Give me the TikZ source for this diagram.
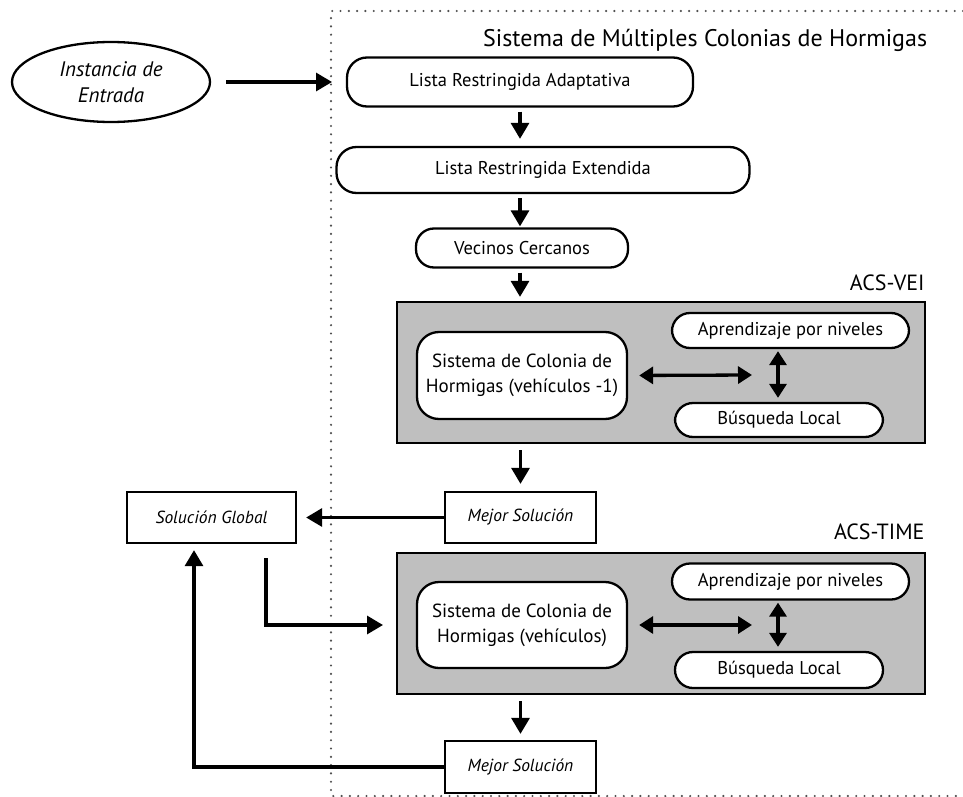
\documentclass[tikz,border=0pt]{standalone}
\usepackage{fontspec}
\setmainfont{PT Sans}
\usetikzlibrary{arrows.meta,shapes.geometric}
\definecolor{panelgray}{RGB}{191,191,191}
\definecolor{dotgray}{RGB}{80,80,80}
\begin{document}
\begin{tikzpicture}[x=1pt,y=-1pt,
  pill/.style={draw, line width=2.3pt, rounded corners=18pt, fill=white,
    inner sep=0pt, align=center, font=\fontsize{18.5}{25}\selectfont},
  flatbox/.style={draw, line width=2.3pt, fill=white, inner sep=0pt,
    font=\fontsize{17.5}{21}\selectfont\itshape},
  panel/.style={draw, line width=2.3pt, fill=panelgray, inner sep=0pt},
  flow/.style={line width=3.3pt, -{Triangle[length=16pt,width=18pt]}},
  both/.style={line width=3.3pt,
    {Triangle[length=14pt,width=17pt]}-{Triangle[length=14pt,width=17pt]}},
  tag/.style={font=\fontsize{22}{26}\selectfont, anchor=east}]
\useasboundingbox (0,0) rectangle (963,797);

% enclosing frame of the multi-colony system
\draw[dotgray, line width=2.4pt, line cap=round, dash pattern=on 0pt off 8.3pt]
  (963,11) -- (331,11) -- (331,796) -- (963,796);
\node[font=\fontsize{24}{28}\selectfont, anchor=west, inner sep=0pt] (title) at (483,40)
  {Sistema de Múltiples Colonias de Hormigas};

% input
\node[draw, ellipse, line width=2.3pt, minimum width=198pt, minimum height=80pt,
  inner sep=0pt, align=center, font=\fontsize{21}{26}\selectfont\itshape]
  (inst) at (111,82) {Instancia de\\Entrada};
\coordinate (inEnd) at (332,82);

% candidate list stages
\node[pill, rounded corners=20pt, minimum width=346pt, minimum height=49pt] (lra) at (520,82)
  {Lista Restringida Adaptativa};
\node[pill, rounded corners=20pt, minimum width=413pt, minimum height=46pt] (lre) at (543,170)
  {Lista Restringida Extendida};
\node[pill, minimum width=212pt, minimum height=39pt] (vc) at (522,248)
  {Vecinos Cercanos};

% ACS-VEI panel
\node[tag] (tvei) at (928,283) {ACS-VEI};
\node[panel, minimum width=528pt, minimum height=141pt] (g1) at (661,372.5) {};
\node[pill, rounded corners=22pt, minimum width=210pt, minimum height=87pt,
  font=\fontsize{19}{25}\selectfont] (cb1) at (522,375.5)
  {Sistema de Colonia de\\Hormigas (vehículos -1)};
\node[pill, minimum width=237pt, minimum height=35pt] (ap1) at (790.5,330.5)
  {Aprendizaje por niveles};
\node[pill, minimum width=208pt, minimum height=34pt] (bl1) at (779,420)
  {Búsqueda Local};
\coordinate (h1) at (752,375);
\coordinate (v1) at (778,375);

% solutions
\node[flatbox, minimum width=151pt, minimum height=51pt] (ms1) at (520.5,517.5)
  {Mejor Solución};
\node[flatbox, minimum width=169pt, minimum height=51pt] (sg) at (211.5,517.5)
  {Solución Global};

% ACS-TIME panel
\node[tag] (ttime) at (928,532) {ACS-TIME};
\node[panel, minimum width=528pt, minimum height=141pt] (g2) at (661,623.5) {};
\node[pill, rounded corners=22pt, minimum width=210pt, minimum height=86pt,
  font=\fontsize{19}{25}\selectfont] (cb2) at (522,625)
  {Sistema de Colonia de\\Hormigas (vehículos)};
\node[pill, minimum width=237pt, minimum height=36pt] (ap2) at (790.5,581.5)
  {Aprendizaje por niveles};
\node[pill, minimum width=208pt, minimum height=36pt] (bl2) at (779,670)
  {Búsqueda Local};
\coordinate (h2) at (752,625);
\coordinate (v2) at (778,625);

\node[flatbox, minimum width=151pt, minimum height=52pt] (ms2) at (520.5,767)
  {Mejor Solución};

% routing points of the feedback loop
\coordinate (fwd) at (266,625);
\coordinate (fwdEnd) at (383,625);
\coordinate (back) at (194,767);

% connectors
\draw[flow, shorten <=15pt] (inst.east) -- (inEnd);
\draw[flow, shorten <=4pt, shorten >=7pt] (lra.south) -- (lra.south |- lre.north);
\draw[flow, shorten <=4pt, shorten >=1pt] (lre.south -| lra.south) -- (lra.south |- vc.north);
\draw[flow, shorten <=4pt, shorten >=4pt] (vc.south -| lra.south) -- (lra.south |- g1.north);
\draw[both, shorten <=11pt] (cb1.east) -- (h1);
\draw[both, shorten <=2pt, shorten >=4pt] (v1 |- ap1.south) -- (v1 |- bl1.north);
\draw[flow, shorten <=6pt, shorten >=7pt] (g1.south -| ms1.north) -- (ms1.north);
\draw[flow, shorten >=9pt] (ms1.west) -- (sg.east);
\draw[flow, shorten <=14pt] (sg.south -| fwd) -- (fwd) -- (fwdEnd);
\draw[both, shorten <=11pt] (cb2.east) -- (h2);
\draw[both, shorten <=2pt, shorten >=4pt] (v2 |- ap2.south) -- (v2 |- bl2.north);
\draw[flow, shorten <=6pt, shorten >=6pt] (g2.south -| ms2.north) -- (ms2.north);
\draw[flow, shorten >=6pt] (ms2.west) -- (back) -- (back |- sg.south);
\end{tikzpicture}
\end{document}
